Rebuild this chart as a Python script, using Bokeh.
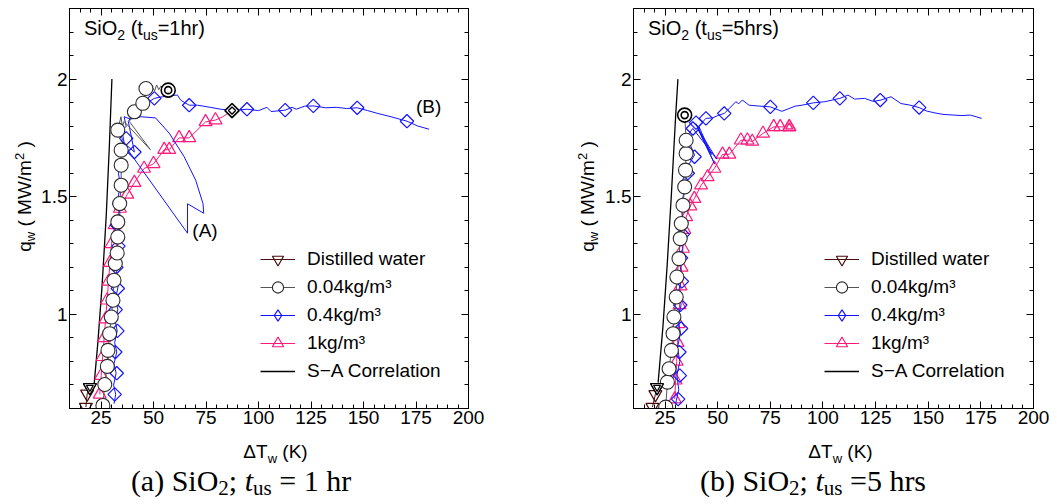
from bokeh.plotting import figure
from bokeh.models import (Range1d, LinearAxis, SingleIntervalTicker, Label, Legend,
                          LegendItem, NumeralTickFormatter)
from bokeh.layouts import row, column
from bokeh.embed import file_html
from bokeh.resources import INLINE
import math

# ---------------- data: panel (a) SiO2, t_us = 1 hr ----------------
a_sa_x = [21.6, 23.5, 25.5, 27.5, 29.0, 30.2]
a_sa_y = [0.69, 0.88, 1.12, 1.42, 1.72, 2.00]

a_dw_x = [17.8, 18.4, 19.7]
a_dw_y = [0.606, 0.662, 0.690]
a_dw_end = (19.7, 0.690)

a_c04_x = [25.9, 26.8, 28.0, 28.3, 29.1, 29.9, 30.7, 31.2, 31.8, 32.7, 33.0, 33.0, 33.9, 34.6,
           34.6, 34.6, 33.0, 40.9, 44.9, 46.4]
a_c04_y = [0.613, 0.702, 0.779, 0.847, 0.918, 0.989, 1.060, 1.145, 1.216, 1.261, 1.329, 1.393,
           1.471, 1.549, 1.634, 1.698, 1.783, 1.861, 1.897, 1.960]
a_c04_lx = [25.9, 26.8, 28.0, 28.3, 29.1, 29.9, 30.7, 31.2, 31.8, 32.7, 33.0, 33.0, 33.9, 34.6,
            34.6, 34.6, 35.5, 33.0, 34.5, 35.2, 36.0, 48.5, 38.5, 40.9, 44.9, 46.4, 49.5, 50.5,
            51.5, 52.5, 53.5, 57.0]
a_c04_ly = [0.613, 0.702, 0.779, 0.847, 0.918, 0.989, 1.060, 1.145, 1.216, 1.261, 1.329, 1.393,
            1.471, 1.549, 1.634, 1.698, 1.740, 1.783, 1.840, 1.800, 1.820, 1.700, 1.820, 1.861,
            1.897, 1.960, 1.965, 1.950, 1.975, 1.955, 1.970, 1.953]
a_c04_end = (57.0, 1.953)

a_c4_x = [31.5, 32.5, 31.8, 32.8, 32.0, 33.0, 32.3, 33.3, 32.6, 33.6, 37.0, 40.9, 50.4, 67.0,
          94.5, 112.7, 126.1, 147.0, 170.7]
a_c4_y = [0.66, 0.75, 0.84, 0.93, 1.02, 1.11, 1.20, 1.29, 1.38, 1.47, 1.748, 1.69, 1.918, 1.889,
          1.872, 1.868, 1.886, 1.878, 1.821]
a_c4_lx = [31.2, 32.0, 31.0, 32.2, 31.2, 32.5, 31.5, 32.7, 31.8, 33.0, 32.0, 33.2, 32.2, 33.4,
           32.5, 33.6, 32.8, 34.0, 33.0, 34.2, 33.3, 35.0, 34.0, 36.0, 35.0, 37.0, 36.0, 39.0,
           44.0, 51.0, 57.5, 64.6, 70.1, 73.6, 73.9, 66.2, 66.2, 34.5, 40.9, 38.0, 41.0, 44.0,
           47.0, 50.4, 54.3, 57.5, 61.4, 63.0, 67.0, 71.0, 77.0, 82.0, 87.4, 94.5, 100.0, 104.0,
           106.0, 112.7, 116.0, 118.0, 122.0, 126.1, 132.0, 137.0, 142.0, 147.0, 152.0, 156.8,
           163.1, 170.7, 175.7, 181.2]
a_c4_ly = [0.62, 0.66, 0.70, 0.75, 0.79, 0.84, 0.88, 0.93, 0.97, 1.02, 1.07, 1.12, 1.17, 1.22,
           1.27, 1.32, 1.38, 1.43, 1.49, 1.55, 1.60, 1.66, 1.70, 1.73, 1.78, 1.80, 1.84, 1.83,
           1.84, 1.835, 1.77, 1.67, 1.57, 1.47, 1.43, 1.47, 1.345, 1.74, 1.69, 1.82, 1.86, 1.89,
           1.90, 1.918, 1.925, 1.93, 1.932, 1.91, 1.889, 1.889, 1.88, 1.872, 1.866, 1.872, 1.866,
           1.880, 1.862, 1.868, 1.880, 1.872, 1.885, 1.886, 1.878, 1.880, 1.875, 1.878, 1.866,
           1.854, 1.840, 1.821, 1.801, 1.787]

a_c1_x = [24.4, 25.1, 25.8, 26.5, 27.2, 27.9, 28.6, 29.3, 30.0, 31.5, 34.0, 37.5, 40.9, 45.5,
          50.0, 55.1, 57.5, 62.2, 67.0, 74.8, 79.5]
a_c1_y = [0.66, 0.74, 0.82, 0.90, 0.98, 1.06, 1.14, 1.22, 1.30, 1.38, 1.45, 1.51, 1.56, 1.62,
          1.64, 1.70, 1.70, 1.75, 1.75, 1.818, 1.826]
a_c1_lx = a_c1_x + [83.0, 87.4]
a_c1_ly = a_c1_y + [1.840, 1.866]
a_c1_end = (87.4, 1.866)

# ---------------- data: panel (b) SiO2, t_us = 5 hrs ----------------
b_sa_x = [21.7, 24.0, 26.0, 28.0, 30.0, 31.1]
b_sa_y = [0.71, 0.95, 1.21, 1.51, 1.84, 2.00]

b_dw_x = [19.0, 20.4, 21.2]
b_dw_y = [0.606, 0.660, 0.690]
b_dw_end = (21.2, 0.690)

b_c04_x = [25.3, 26.1, 26.9, 28.0, 28.8, 29.2, 30.3, 30.6, 31.6, 32.2, 32.7, 33.5, 34.3, 34.7,
           35.0, 35.0]
b_c04_y = [0.606, 0.712, 0.769, 0.847, 0.918, 0.989, 1.074, 1.159, 1.237, 1.322, 1.386, 1.464,
           1.542, 1.613, 1.684, 1.740]
b_c04_lx = b_c04_x + [34.3]
b_c04_ly = b_c04_y + [1.847]
b_c04_end = (34.3, 1.847)

b_c4_x = [31.2, 32.0, 31.8, 32.6, 32.2, 33.0, 32.6, 33.4, 35.8, 39.0, 38.2, 39.7, 44.4, 53.1,
          75.0, 95.4, 108.0, 127.2, 145.7]
b_c4_y = [0.64, 0.74, 0.84, 0.94, 1.04, 1.14, 1.24, 1.34, 1.60, 1.67, 1.79, 1.815, 1.833, 1.854,
          1.882, 1.899, 1.918, 1.911, 1.879]
b_c4_lx = [30.0, 31.5, 30.6, 32.0, 30.9, 32.3, 31.2, 32.6, 31.5, 33.0, 31.9, 33.3, 32.3, 33.6,
           32.6, 34.0, 33.0, 34.5, 36.5, 39.0, 37.0, 35.5, 38.2, 49.5, 40.5, 48.5, 39.7, 47.0,
           41.0, 44.4, 47.5, 50.0, 53.1, 55.5, 58.6, 60.0, 61.7, 64.9, 70.0, 75.0, 80.5, 86.8,
           90.0, 95.4, 101.0, 105.0, 108.0, 111.9, 115.0, 119.8, 124.0, 127.6, 132.3, 137.0,
           141.0, 145.7, 149.0, 152.7, 157.0, 162.1, 166.0, 170.0, 175.4]
b_c4_ly = [0.62, 0.68, 0.74, 0.80, 0.86, 0.92, 0.98, 1.04, 1.10, 1.16, 1.22, 1.28, 1.34, 1.40,
           1.46, 1.52, 1.56, 1.60, 1.64, 1.677, 1.72, 1.76, 1.79, 1.66, 1.79, 1.64, 1.81, 1.68,
           1.80, 1.833, 1.835, 1.845, 1.854, 1.875, 1.904, 1.895, 1.911, 1.889, 1.885, 1.882,
           1.863, 1.885, 1.889, 1.899, 1.904, 1.912, 1.918, 1.932, 1.915, 1.918, 1.905, 1.911,
           1.925, 1.896, 1.890, 1.879, 1.865, 1.857, 1.850, 1.847, 1.845, 1.847, 1.833]

b_c1_x = [29.6, 30.0, 30.5, 30.9, 31.4, 31.9, 32.3, 32.8, 33.5, 34.2, 35.0, 37.0, 38.9, 42.1,
          45.2, 48.4, 52.3, 55.5, 61.0, 64.1, 66.4, 71.5, 76.6, 79.7]
b_c1_y = [0.64, 0.72, 0.80, 0.88, 0.96, 1.04, 1.12, 1.20, 1.28, 1.36, 1.414, 1.46, 1.492, 1.549,
          1.584, 1.62, 1.68, 1.68, 1.74, 1.74, 1.735, 1.769, 1.797, 1.797]
b_c1_lx = b_c1_x + [84.0]
b_c1_ly = b_c1_y + [1.797]
b_c1_end = (84.0, 1.797)

legend_labels = ["Distilled water", "0.04kg/m³", "0.4kg/m³", "1kg/m³", "S\u2212A Correlation"]
x_ticks_interval = 25
y_ticks_interval = 0.5

# ---------------- style ----------------
SANS = "Liberation Sans"
SERIF = "Liberation Serif"
C_DW = "#4a0c0c"
C_04 = "#2a2a2a"
C_04L = "#555555"
C_4 = "#1414ff"
C_1 = "#ff1a7d"
BASE_CORR = 0.5   # alphabetic-baseline correction, fraction of font size

ARIAL = {' ': 278, '(': 333, ')': 333, '.': 278, '/': 278, '=': 584, 'A': 667, 'B': 667,
         'C': 722, 'D': 722, 'K': 667, 'M': 833, 'O': 778, 'S': 667, 'T': 611, 'W': 944,
         'a': 556, 'd': 556, 'e': 556, 'g': 556, 'h': 556, 'i': 222, 'k': 500, 'l': 222,
         'm': 833, 'n': 556, 'o': 556, 'q': 556, 'r': 333, 's': 500, 't': 278, 'u': 556,
         'w': 722, '\u0394': 668, ';': 278}
TIMES = {' ': 250, '(': 333, ')': 333, 'a': 444, 'b': 500, 'S': 556, 'i': 278, 'O': 722,
         ';': 278, 't': 278, 'u': 500, 's': 389, '=': 564, 'h': 500, 'r': 333}


def tw(s, size, table):
    dflt = 556 if table is ARIAL else 500
    return sum(table.get(ch, dflt) for ch in s) * size / 1000.0


def rich(p, pieces, x0, y0, font, table, angle=0.0):
    pos = 0.0
    for txt, size, shift, style in pieces:
        lead = len(txt) - len(txt.lstrip(" "))
        off = pos + tw(" " * lead, size, table)
        core = txt.strip(" ")
        corr = BASE_CORR * size
        if angle == 0.0:
            x, y = x0 + off, y0 + shift + corr
        else:
            x, y = x0 - shift - corr, y0 + off
        if core:
            p.add_layout(Label(x=x, y=y, x_units="screen", y_units="screen", text=core,
                               text_font=font, text_font_size=f"{size}px", text_font_style=style,
                               text_color="black", angle=angle, text_align="left",
                               text_baseline="alphabetic"))
        pos += tw(txt, size, table)


def rich_width(pieces, table):
    return sum(tw(t, s, table) for t, s, _, _ in pieces)


def style_axis(ax, ticker, labels=True, fmt=None):
    ax.ticker = ticker
    ax.major_tick_in = 7
    ax.major_tick_out = 0
    ax.minor_tick_in = 4
    ax.minor_tick_out = 0
    ax.axis_line_color = "black"
    ax.major_tick_line_color = "black"
    ax.minor_tick_line_color = "black"
    ax.major_label_text_font = SANS
    if fmt is not None:
        ax.formatter = fmt
    if labels:
        ax.major_label_text_color = "black"
        ax.major_label_text_font_size = "19px"
        ax.major_label_standoff = 2
    else:
        ax.major_label_text_color = None
        ax.major_label_text_alpha = 0
        ax.major_label_text_font_size = "1px"
        ax.major_label_standoff = 0


def strip(width, height):
    s = figure(width=width, height=height, output_backend="svg", toolbar_location=None,
               x_range=Range1d(0, 1), y_range=Range1d(0, 1), min_border=0,
               x_axis_location=None, y_axis_location=None)
    s.outline_line_color = None
    s.background_fill_color = "white"
    s.border_fill_color = "white"
    s.xgrid.visible = False
    s.ygrid.visible = False
    return s


def panel(d, width, bl, br, title_pieces, show_B):
    p = figure(width=width, height=434, x_range=Range1d(10, 200), y_range=Range1d(0.6, 2.3),
               output_backend="svg", toolbar_location=None,
               min_border_left=bl, min_border_right=br, min_border_top=8, min_border_bottom=26)
    p.background_fill_color = "white"
    p.border_fill_color = "white"
    p.outline_line_color = "black"
    p.outline_line_width = 1
    p.xgrid.visible = False
    p.ygrid.visible = False
    fmt_y = NumeralTickFormatter(format="0.[0]")
    style_axis(p.xaxis[0], SingleIntervalTicker(interval=x_ticks_interval, num_minor_ticks=5))
    style_axis(p.yaxis[0], SingleIntervalTicker(interval=y_ticks_interval, num_minor_ticks=5),
               fmt=fmt_y)
    top = LinearAxis()
    style_axis(top, SingleIntervalTicker(interval=x_ticks_interval, num_minor_ticks=5), labels=False)
    p.add_layout(top, "above")
    rgt = LinearAxis()
    style_axis(rgt, SingleIntervalTicker(interval=y_ticks_interval, num_minor_ticks=5),
               labels=False, fmt=fmt_y)
    p.add_layout(rgt, "right")

    sa = p.line(d["sa_x"], d["sa_y"], line_color="black", line_width=1.3)
    l1 = p.line(d["c1_lx"], d["c1_ly"], line_color=C_1, line_width=1)
    m1 = p.scatter(d["c1_x"], d["c1_y"], marker="triangle", size=13, line_color=C_1,
                   fill_alpha=0, line_width=1.2)
    l4 = p.line(d["c4_lx"], d["c4_ly"], line_color=C_4, line_width=1)
    p.scatter(d["c4_x"], d["c4_y"], marker="square", angle=math.pi / 4, size=9.5,
              line_color=C_4, fill_alpha=0, line_width=1.2)
    # legend proxy (zero size in the plot; legend draws a fixed-size diamond)
    m4_leg = p.scatter(d["c4_x"], d["c4_y"], marker="diamond", size=0, line_color=C_4,
                       fill_alpha=0, line_width=1.2)
    ldw = p.line(d["dw_x"], d["dw_y"], line_color=C_DW, line_width=1)
    mdw = p.scatter(d["dw_x"], d["dw_y"], marker="inverted_triangle", size=13, line_color=C_DW,
                    fill_alpha=0, line_width=1.2)
    l04 = p.line(d["c04_lx"], d["c04_ly"], line_color=C_04L, line_width=1)
    m04 = p.scatter(d["c04_x"], d["c04_y"], marker="circle", size=14, line_color=C_04,
                    fill_color="white", line_width=1.1)
    # end-point (double) markers
    ex, ey = d["dw_end"]
    p.scatter([ex], [ey], marker="inverted_triangle", size=13, line_color="black", fill_color="white", line_width=1.3)
    p.scatter([ex], [ey], marker="inverted_triangle", size=7, line_color="black", fill_alpha=0, line_width=1.2)
    ex, ey = d["c04_end"]
    p.scatter([ex], [ey], marker="circle", size=14, line_color="black", fill_color="white", line_width=1.6)
    p.scatter([ex], [ey], marker="circle", size=7, line_color="black", fill_alpha=0, line_width=1.6)
    ex, ey = d["c1_end"]
    if d["c1_end_kind"] == "diamond":
        p.scatter([ex], [ey], marker="square", angle=math.pi / 4, size=10, line_color="black",
                  fill_color="white", line_width=1.6)
        p.scatter([ex], [ey], marker="square", angle=math.pi / 4, size=5, line_color="black",
                  fill_alpha=0, line_width=1.4)
    else:
        p.scatter([ex], [ey], marker="triangle", size=13, line_color=C_1, fill_color="white", line_width=1.6)
        p.scatter([ex], [ey], marker="triangle", size=7, line_color=C_1, fill_alpha=0, line_width=1.4)

    items = [LegendItem(label=legend_labels[0], renderers=[ldw, mdw]),
             LegendItem(label=legend_labels[1], renderers=[l04, m04]),
             LegendItem(label=legend_labels[2], renderers=[l4, m4_leg]),
             LegendItem(label=legend_labels[3], renderers=[l1, m1]),
             LegendItem(label=legend_labels[4], renderers=[sa])]
    leg = Legend(items=items, location=(191, 23), border_line_color=None,
                 background_fill_alpha=0, padding=0, margin=0, spacing=0,
                 glyph_height=28, label_height=28, glyph_width=35, label_standoff=12,
                 label_text_font=SANS, label_text_font_size="19px", label_text_color="black")
    p.add_layout(leg)

    if show_B:
        p.add_layout(Label(x=68.5, y=1.357, text="(A)", text_font=SANS, text_font_size="19px",
                           text_baseline="middle", text_align="left", text_color="black"))
        p.add_layout(Label(x=175.0, y=1.885, text="(B)", text_font=SANS, text_font_size="19px",
                           text_baseline="middle", text_align="left", text_color="black"))

    rich(p, title_pieces, 14.5, 370.5, SANS, ARIAL)
    return p


da = dict(sa_x=a_sa_x, sa_y=a_sa_y, dw_x=a_dw_x, dw_y=a_dw_y, dw_end=a_dw_end,
          c04_x=a_c04_x, c04_y=a_c04_y, c04_lx=a_c04_lx, c04_ly=a_c04_ly, c04_end=a_c04_end,
          c4_x=a_c4_x, c4_y=a_c4_y, c4_lx=a_c4_lx, c4_ly=a_c4_ly,
          c1_x=a_c1_x, c1_y=a_c1_y, c1_lx=a_c1_lx, c1_ly=a_c1_ly, c1_end=a_c1_end,
          c1_end_kind="diamond")
db = dict(sa_x=b_sa_x, sa_y=b_sa_y, dw_x=b_dw_x, dw_y=b_dw_y, dw_end=b_dw_end,
          c04_x=b_c04_x, c04_y=b_c04_y, c04_lx=b_c04_lx, c04_ly=b_c04_ly, c04_end=b_c04_end,
          c4_x=b_c4_x, c4_y=b_c4_y, c4_lx=b_c4_lx, c4_ly=b_c4_ly,
          c1_x=b_c1_x, c1_y=b_c1_y, c1_lx=b_c1_lx, c1_ly=b_c1_ly, c1_end=b_c1_end,
          c1_end_kind="triangle")

title_a = [("SiO", 20, 0, "normal"), ("2", 14, -4, "normal"), (" (t", 20, 0, "normal"),
           ("us", 14, -4, "normal"), ("=1hr)", 20, 0, "normal")]
title_b = [("SiO", 20, 0, "normal"), ("2", 14, -4, "normal"), (" (t", 20, 0, "normal"),
           ("us", 14, -4, "normal"), ("=5hrs)", 20, 0, "normal")]
cap_a = [("(a) SiO", 30, 0, "normal"), ("2", 21, -3, "normal"), ("; ", 30, 0, "normal"),
         ("t", 30, 0, "italic"), ("us", 21, -3, "normal"), (" = 1 hr", 30, 0, "normal")]
cap_b = [("(b) SiO", 30, 0, "normal"), ("2", 21, -3, "normal"), ("; ", 30, 0, "normal"),
         ("t", 30, 0, "italic"), ("us", 21, -3, "normal"), (" =5 hrs", 30, 0, "normal")]
x_label = [("\u0394T", 19, 0, "normal"), ("w", 13, -4, "normal"), (" (K)", 19, 0, "normal")]
y_label = [("q", 19, 0, "normal"), ("w", 13, -3, "normal"), (" ( MW/m", 19, 0, "normal"),
           ("2", 13, 8, "normal"), (" )", 19, 0, "normal")]

pa = panel(da, 490, 29, 60, title_a, True)
pb = panel(db, 447, 31, 16, title_b, False)

# y-axis label strips
ya = strip(38, 434)
rich(ya, y_label, 33, 212 - rich_width(y_label, ARIAL) / 2, SANS, ARIAL, angle=math.pi / 2)
yb = strip(74, 434)
rich(yb, y_label, 68, 212 - rich_width(y_label, ARIAL) / 2, SANS, ARIAL, angle=math.pi / 2)

# x-axis labels and captions strip
bottom = strip(1049, 68)
rich(bottom, x_label, 275 - rich_width(x_label, ARIAL) / 2, 42, SANS, ARIAL)
rich(bottom, x_label, 840 - rich_width(x_label, ARIAL) / 2, 42, SANS, ARIAL)
rich(bottom, cap_a, 240.5 - rich_width(cap_a, TIMES) / 2, 7, SERIF, TIMES)
rich(bottom, cap_b, 812.5 - rich_width(cap_b, TIMES) / 2, 7, SERIF, TIMES)

layout = column(row(ya, pa, yb, pb), bottom)
open("out.html", "w").write(file_html(layout, INLINE))
